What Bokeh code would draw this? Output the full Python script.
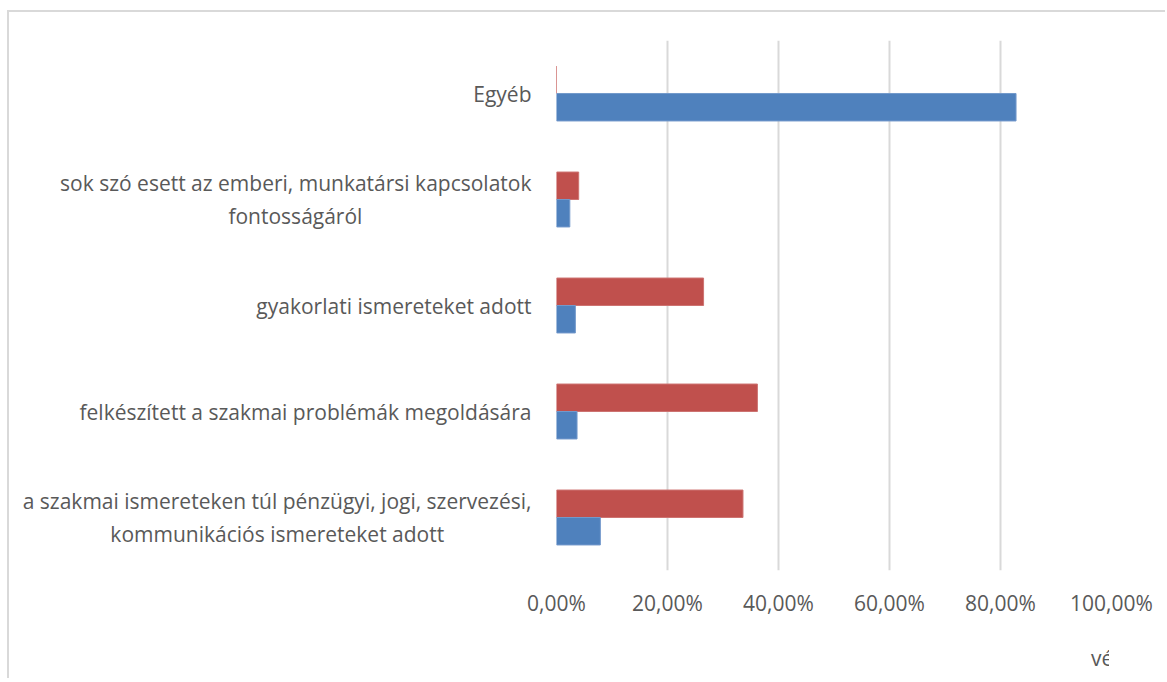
from bokeh.plotting import figure
from bokeh.layouts import column
from bokeh.models import FactorRange, Range1d, FixedTicker, Legend, LegendItem, ColumnDataSource
from bokeh.transform import dodge
from bokeh.embed import file_html
from bokeh.resources import INLINE

categories = [
    "a szakmai ismereteken túl pénzügyi, jogi, szervezési,\nkommunikációs ismereteket adott",
    "felkészített a szakmai problémák megoldására",
    "gyakorlati ismereteket adott",
    "sok szó esett az emberi, munkatársi kapcsolatok\nfontosságáról",
    "Egyéb",
]
velt = [33.6, 36.2, 26.5, 4.0, 0.0]
y2015 = [7.9, 3.7, 3.4, 2.4, 82.8]
series_names = ["vélt", "2015"]
tick_values = [0, 20, 40, 60, 80, 100]
tick_labels = ["0,00%", "20,00%", "40,00%", "60,00%", "80,00%", "100,00%"]

RED = "#C0504D"
BLUE = "#4F81BD"
RED_EDGE = "#CD7371"
BLUE_EDGE = "#7399CB"
TXT = "#595959"
FONT = "Open Sans"
FS = "21px"
NBSP = "\u00a0"
BORDER_STYLE = {"border-left": "2px solid #D9D9D9", "margin-left": "7px"}

# Axis labels are right-aligned line by line; pad the short second line with
# no-break spaces so that it appears centred under the first line.
pad = {categories[0]: 16, categories[3]: 31}
factors = []
for c in categories:
    if "\n" in c:
        a, b = c.split("\n")
        factors.append(a + "\n" + b + NBSP * pad[c])
    else:
        factors.append(c)

src = ColumnDataSource(dict(cat=factors, velt=velt, y2015=y2015))

p = figure(frame_width=553, frame_height=528, output_backend="svg", toolbar_location=None,
           y_range=FactorRange(*factors, range_padding=0),
           x_range=Range1d(0, 100))
p.min_border_left = 547
p.min_border_top = 28
p.min_border_right = 56
p.min_border_bottom = 50
p.outline_line_color = None
p.background_fill_color = "white"
p.border_fill_color = "white"
p.styles = dict(BORDER_STYLE, **{"border-top": "2px solid #D9D9D9", "margin-top": "10px"})

bh = 0.259
p.hbar(y=dodge("cat", bh / 2, range=p.y_range), right="velt", left=0, height=bh,
       source=src, fill_color=RED, line_color=RED_EDGE, line_width=1)
p.hbar(y=dodge("cat", -bh / 2, range=p.y_range), right="y2015", left=0, height=bh,
       source=src, fill_color=BLUE, line_color=BLUE_EDGE, line_width=1)

# x axis
p.xaxis.ticker = FixedTicker(ticks=tick_values)
p.xaxis.major_label_overrides = {v: l for v, l in zip(tick_values, tick_labels)}
p.xaxis.axis_line_color = None
p.xaxis.major_tick_line_color = None
p.xaxis.minor_tick_line_color = None
p.xaxis.major_label_text_font = FONT
p.xaxis.major_label_text_font_size = FS
p.xaxis.major_label_text_color = TXT
p.xaxis.major_label_standoff = 12

# y axis
p.yaxis.axis_line_color = None
p.yaxis.major_tick_line_color = None
p.yaxis.minor_tick_line_color = None
p.yaxis.major_label_text_font = FONT
p.yaxis.major_label_text_font_size = FS
p.yaxis.major_label_text_color = TXT
p.yaxis.major_label_standoff = 19

# grid
p.xgrid.ticker = FixedTicker(ticks=tick_values)
p.xgrid.grid_line_color = "#D9D9D9"
p.xgrid.grid_line_width = 2
p.ygrid.grid_line_color = None

# legend strip below the chart (separate small figure holding only the legend)
leg = figure(width=1156, height=60, output_backend="svg", toolbar_location=None,
             x_axis_type=None, y_axis_type=None,
             x_range=Range1d(0, 1), y_range=Range1d(0, 1))
leg.min_border_left = 0
leg.min_border_right = 0
leg.min_border_top = 0
leg.min_border_bottom = 0
leg.outline_line_color = None
leg.background_fill_color = "white"
leg.border_fill_color = "white"
leg.styles = BORDER_STYLE

empty = ColumnDataSource(dict(y=[], right=[]))
lr1 = leg.hbar(y="y", right="right", left=0, height=0.5, source=empty,
               fill_color=RED, line_color=RED_EDGE)
lr2 = leg.hbar(y="y", right="right", left=0, height=0.5, source=empty,
               fill_color=BLUE, line_color=BLUE_EDGE)

legend = Legend(items=[LegendItem(label=series_names[0], renderers=[lr1]),
                       LegendItem(label=series_names[1], renderers=[lr2])],
                orientation="horizontal", location=(517, 6),
                glyph_width=14, glyph_height=14, label_standoff=4, spacing=16,
                label_text_font=FONT, label_text_font_size=FS, label_text_color=TXT,
                border_line_color=None, background_fill_alpha=0, padding=5, margin=0)
leg.add_layout(legend)

layout = column(p, leg, spacing=0)
open("out.html", "w").write(file_html(layout, INLINE))
